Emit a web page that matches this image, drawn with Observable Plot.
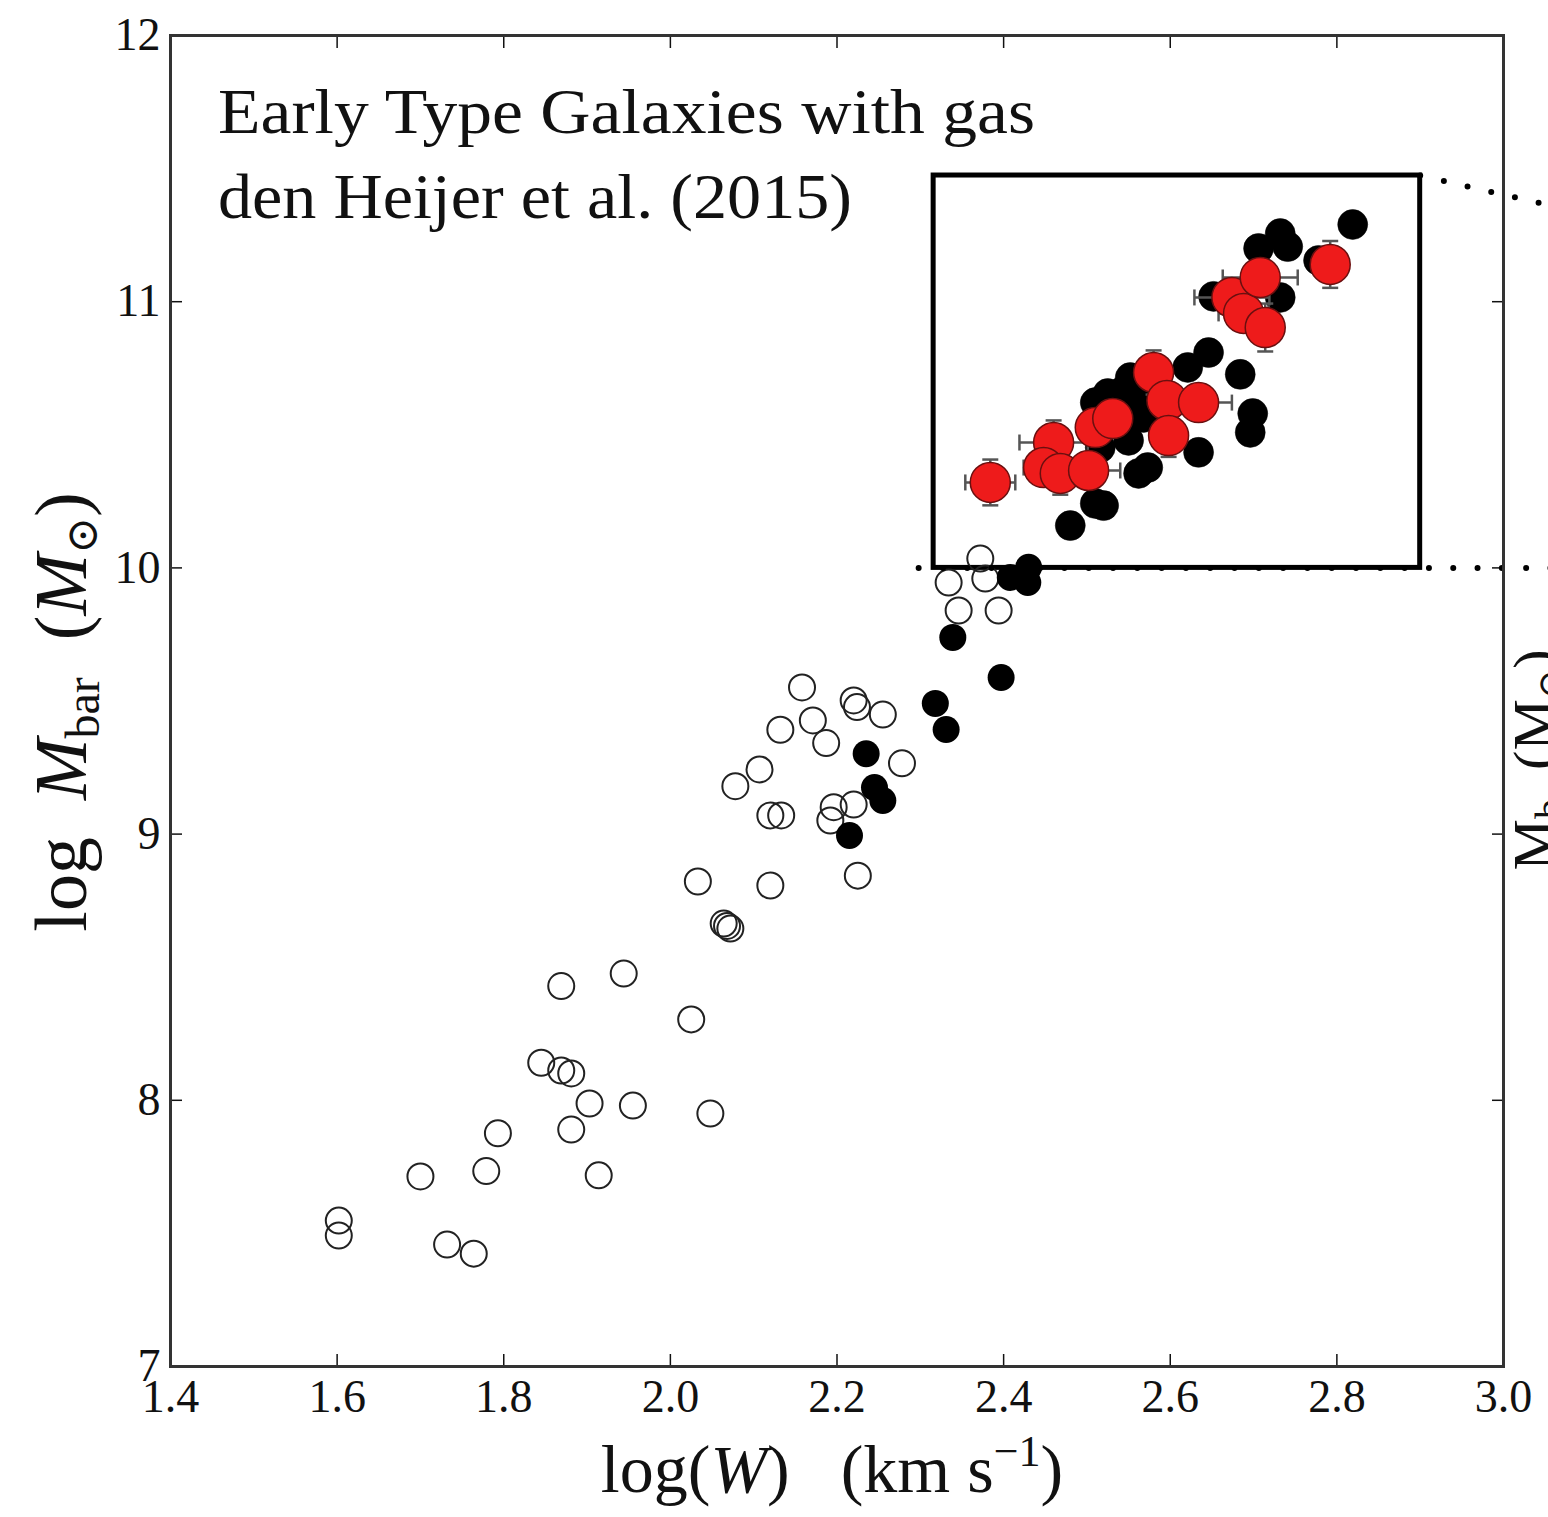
<!DOCTYPE html>
<html><head><meta charset="utf-8">
<script src="https://cdn.jsdelivr.net/npm/d3@7"></script>
<script src="https://cdn.jsdelivr.net/npm/@observablehq/plot@0.6"></script>
<style>
body{margin:0;background:#fff}
#chart{position:relative;width:1548px;height:1517px;overflow:hidden}
</style>
</head><body><div id="chart"></div>
<script>
// ---- tick values / labels ----
const xTicks = [1.4, 1.6, 1.8, 2.0, 2.2, 2.4, 2.6, 2.8, 3.0];
const yTicks = [7, 8, 9, 10, 11, 12];
const titleLines = ["Early Type Galaxies with gas", "den Heijer et al. (2015)"];

// ---- main panel: open circles (log W, log Mbar) ----
const openW = [1.602,1.602,1.700,1.732,1.764,1.779,1.793,1.845,1.869,1.869,1.881,1.881,1.903,1.914,1.944,1.955,2.025,2.033,2.048,2.064,2.072,2.068,2.078,2.107,2.120,2.133,2.120,2.132,2.158,2.171,2.187,2.192,2.196,2.220,2.220,2.224,2.225,2.255,2.278,2.334,2.346,2.372,2.378,2.394];
const openM = [7.548,7.492,7.714,7.458,7.424,7.734,7.876,8.141,8.429,8.112,8.101,7.890,7.988,7.718,8.476,7.980,8.304,8.822,7.950,8.664,8.645,8.655,9.180,9.243,9.070,9.070,8.807,9.392,9.551,9.427,9.342,9.051,9.101,9.111,9.502,9.477,8.844,9.449,9.266,9.945,9.840,10.035,9.960,9.840];

// ---- main panel: filled black circles ----
const fillW = [2.215,2.235,2.245,2.255,2.318,2.331,2.339,2.397,2.408,2.430,2.429];
const fillM = [8.995,9.302,9.175,9.126,9.491,9.393,9.739,9.588,9.964,10.002,9.945];

// ---- inset (zoomed panel) drawn inside box ----
const insetX = [2.316, 2.900];
const insetY = [10.0, 11.474];
const insetBlackW = [2.480,2.510,2.520,2.516,2.550,2.562,2.573,2.510,2.525,2.544,2.552,2.561,2.568,2.621,2.646,2.634,2.684,2.699,2.696,2.652,2.732,2.706,2.732,2.741,2.778,2.819];
const insetBlackM = [10.159,10.242,10.234,10.452,10.479,10.355,10.377,10.621,10.655,10.666,10.715,10.640,10.565,10.753,10.809,10.434,10.727,10.580,10.509,11.020,11.016,11.200,11.256,11.207,11.155,11.290];
const redW    = [2.384,2.460,2.448,2.468,2.502,2.510,2.531,2.580,2.596,2.598,2.634,2.674,2.688,2.708,2.714,2.792];
const redM    = [10.321,10.471,10.377,10.355,10.366,10.527,10.561,10.734,10.629,10.497,10.621,11.016,10.956,11.091,10.903,11.140];
const redErrW = [0.030,0.041,0.024,0.020,0.038,0.020,0.020,0.020,0.020,0.020,0.040,0.045,0.030,0.045,0.020,0.020];
const redErrM = [0.086,0.083,0.060,0.080,0.050,0.060,0.060,0.083,0.060,0.080,0.060,0.060,0.060,0.060,0.090,0.088];

// ---- zoom connectors (dotted) ----
const connX1 = [2.900, 2.298];
const connY1 = [11.474, 10.0];
const connX2 = [3.069, 3.070];
const connY2 = [11.352, 10.0];

// ---- build tables ----
const openPts = openW.map((w,i)=>({w, m: openM[i]}));
const fillPts = fillW.map((w,i)=>({w, m: fillM[i]}));
const insetBlack = insetBlackW.map((w,i)=>({w, m: insetBlackM[i]}));
const red = redW.map((w,i)=>({w, m: redM[i], ew: redErrW[i], em: redErrM[i]}));
const conns = connX1.map((x,i)=>({x1:x, y1:connY1[i], x2:connX2[i], y2:connY2[i]}));
const box = [{x1: insetX[0], x2: insetX[1], y1: insetY[0], y2: insetY[1]}];

const vline = {draw(ctx, size){ const h = Math.sqrt(size/Math.PI); ctx.moveTo(0,-h); ctx.lineTo(0,h); }};
const hline = {draw(ctx, size){ const h = Math.sqrt(size/Math.PI); ctx.moveTo(-h,0); ctx.lineTo(h,0); }};

const FONT = "'Liberation Serif','DejaVu Serif',serif";
const errColor = "#555";

const plot = Plot.plot({
  width: 1548, height: 1517,
  marginLeft: 170, marginRight: 45, marginTop: 35, marginBottom: 151,
  x: {domain: [1.4, 3.0]},
  y: {domain: [7, 12]},
  style: {background: "#fff", fontFamily: FONT, fontSize: "46px", color: "#111"},
  marks: [
    // axes: inward ticks on all four sides
    Plot.axisX(xTicks, {anchor: "bottom", tickSize: -12, tickPadding: 25, strokeWidth: 1.5, label: null,
      tickFormat: d => d.toFixed(1), fontSize: 46}),
    Plot.axisX(xTicks, {anchor: "top", tickSize: -12, strokeWidth: 1.5, label: null, tickFormat: () => ""}),
    Plot.axisY(yTicks, {anchor: "left", tickSize: -12, tickPadding: 22, strokeWidth: 1.5, label: null,
      tickFormat: d => String(d), fontSize: 46}),
    Plot.axisY(yTicks, {anchor: "right", tickSize: -12, strokeWidth: 1.5, label: null, tickFormat: () => ""}),
    // inset box
    Plot.rect(box, {x1: "x1", x2: "x2", y1: "y1", y2: "y2", fill: "white", stroke: "black", strokeWidth: 5}),
    // inset black points
    Plot.dot(insetBlack, {x: "w", y: "m", r: 15, fill: "black", stroke: "black", strokeWidth: 0.5}),
    // red error bars
    Plot.link(red, {x1: d => d.w - d.ew, x2: d => d.w + d.ew, y1: "m", y2: "m", stroke: errColor, strokeWidth: 2.5}),
    Plot.link(red, {x1: "w", x2: "w", y1: d => d.m - d.em, y2: d => d.m + d.em, stroke: errColor, strokeWidth: 2.5}),
    Plot.dot(red, {x: d => d.w - d.ew, y: "m", r: 8, symbol: vline, stroke: errColor, strokeWidth: 2.5, fill: "none"}),
    Plot.dot(red, {x: d => d.w + d.ew, y: "m", r: 8, symbol: vline, stroke: errColor, strokeWidth: 2.5, fill: "none"}),
    Plot.dot(red, {x: "w", y: d => d.m - d.em, r: 8, symbol: hline, stroke: errColor, strokeWidth: 2.5, fill: "none"}),
    Plot.dot(red, {x: "w", y: d => d.m + d.em, r: 8, symbol: hline, stroke: errColor, strokeWidth: 2.5, fill: "none"}),
    // red points
    Plot.dot(red, {x: "w", y: "m", r: 20, fill: "#ee1b1b", stroke: "#6a0f0f", strokeWidth: 1.5}),
    // main data
    Plot.dot(openPts, {x: "w", y: "m", r: 13, fill: "none", stroke: "#222", strokeWidth: 2}),
    Plot.dot(fillPts, {x: "w", y: "m", r: 13.5, fill: "black"}),
    // dotted connectors
    Plot.link(conns, {x1: "x1", y1: "y1", x2: "x2", y2: "y2", stroke: "black", strokeWidth: 6,
      strokeDasharray: "0 24.3", strokeLinecap: "round"}),
    Plot.frame({stroke: "#333", strokeWidth: 3})
  ]
});

document.getElementById("chart").appendChild(plot);

// ---- rich text labels ----
const svg = d3.select(plot);
const g = svg.append("g").attr("font-family", FONT).attr("fill", "#111");

g.append("text").attr("x", 218).attr("y", 133).attr("font-size", 64).attr("text-anchor", "start")
  .attr("textLength", 817).attr("lengthAdjust", "spacingAndGlyphs").text(titleLines[0]);
g.append("text").attr("x", 218).attr("y", 218).attr("font-size", 64).attr("text-anchor", "start")
  .attr("textLength", 634).attr("lengthAdjust", "spacingAndGlyphs").text(titleLines[1]);

// x label: log(W)  (km s^-1)
const xl = g.append("text").attr("x", 832).attr("y", 1492).attr("font-size", 68).attr("text-anchor", "middle");
xl.append("tspan").text("log(");
xl.append("tspan").attr("font-style", "italic").text("W");
xl.append("tspan").text(")\u2002 (km s");
xl.append("tspan").attr("font-size", 44).attr("dy", -26).text("\u22121");
xl.append("tspan").attr("dy", 26).text(")");

// y label: log  M_bar  (M_sun)
const yl = g.append("text").attr("transform", "translate(86,712) rotate(-90)").attr("font-size", 74).attr("text-anchor", "middle");
yl.append("tspan").text("log\u2002");
yl.append("tspan").attr("font-style", "italic").text("M");
yl.append("tspan").attr("font-size", 48).attr("dy", 13).text("bar");
yl.append("tspan").attr("dy", -13).text("\u2002(");
yl.append("tspan").attr("font-style", "italic").text("M");
yl.append("tspan").attr("font-size", 44).attr("dy", 11).attr("font-family", "'DejaVu Serif',serif").text("\u2299");
yl.append("tspan").attr("dy", -11).text(")");

// cut-off label of the neighbouring panel
const rl = g.append("text").attr("transform", "translate(1553,760) rotate(-90)").attr("font-size", 58).attr("text-anchor", "middle");
rl.append("tspan").text("M");
rl.append("tspan").attr("font-size", 40).attr("dy", 10).text("b");
rl.append("tspan").attr("dy", -10).text("\u2002(M");
rl.append("tspan").attr("font-size", 36).attr("dy", 10).attr("font-family", "'DejaVu Serif',serif").text("\u2299");
rl.append("tspan").attr("dy", -10).text(")");
</script>
</body></html>
